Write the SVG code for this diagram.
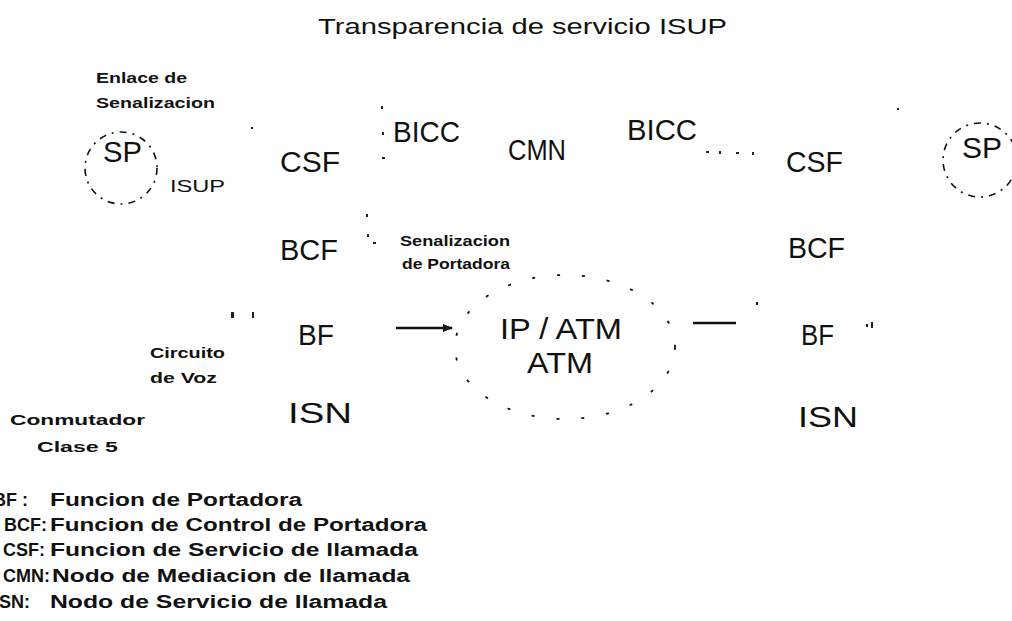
<svg xmlns="http://www.w3.org/2000/svg" width="1012" height="621" viewBox="0 0 1012 621">
<style>
  .bg{fill:#ffffff}
  text{font-family:"Liberation Sans",Arial,sans-serif;fill:#111111}
  .title{font-size:22px}
  .big{font-size:30px}
  .small{font-size:15px;font-weight:bold}
  .thin{font-size:16px}
  .leg{font-size:18px;font-weight:bold}
  .dash{fill:none;stroke:#111111;stroke-width:1.6;stroke-dasharray:7 6 2 6}
  .cloud{fill:none;stroke:#111111;stroke-width:1.8;stroke-dasharray:3 22}
  .conn{stroke:#111111;stroke-width:2.6;fill:none}
  .mark{fill:#222222}
</style>
<defs>
  <marker id="ah" viewBox="0 0 10 10" refX="9" refY="5" markerWidth="4" markerHeight="4" orient="auto">
    <path d="M0,1 L10,5 L0,9 Z" fill="#111111"/>
  </marker>
</defs>
<rect class="bg" x="0" y="0" width="1012" height="621"/>

<text class="title" x="318" y="34" textLength="409" lengthAdjust="spacingAndGlyphs">Transparencia de servicio ISUP</text>

<g id="sp-left">
  <circle class="dash" cx="121" cy="168" r="36"/>
  <text class="big" x="103" y="162" font-size="29" textLength="39" lengthAdjust="spacingAndGlyphs">SP</text>
</g>
<g id="enlace-label">
  <text class="small" x="96" y="83" textLength="91" lengthAdjust="spacingAndGlyphs">Enlace de</text>
  <text class="small" x="96" y="108" textLength="119" lengthAdjust="spacingAndGlyphs">Senalizacion</text>
</g>
<g id="isup-label">
  <text class="thin" x="170" y="192" textLength="55" lengthAdjust="spacingAndGlyphs">ISUP</text>
</g>

<g id="csf-left"><text class="big" x="280" y="172" font-size="32" textLength="60" lengthAdjust="spacingAndGlyphs">CSF</text></g>
<g id="bicc-left"><text class="big" x="393" y="142" font-size="28" textLength="67" lengthAdjust="spacingAndGlyphs">BICC</text></g>
<g id="cmn"><text class="big" x="508" y="160" font-size="26" textLength="58" lengthAdjust="spacingAndGlyphs">CMN</text></g>
<g id="bicc-right"><text class="big" x="627" y="140" font-size="27" textLength="70" lengthAdjust="spacingAndGlyphs">BICC</text></g>
<g id="csf-right"><text class="big" x="786" y="172" font-size="31" textLength="57" lengthAdjust="spacingAndGlyphs">CSF</text></g>

<g id="sp-right">
  <circle class="dash" cx="980" cy="160" r="37"/>
  <text class="big" x="962" y="158" font-size="29" textLength="40" lengthAdjust="spacingAndGlyphs">SP</text>
</g>

<g id="bcf-left"><text class="big" x="280" y="260" font-size="33" textLength="58" lengthAdjust="spacingAndGlyphs">BCF</text></g>
<g id="senal-portadora">
  <text class="small" x="400" y="246" textLength="110" lengthAdjust="spacingAndGlyphs">Senalizacion</text>
  <text class="small" x="402" y="269" textLength="108" lengthAdjust="spacingAndGlyphs">de Portadora</text>
</g>
<g id="bcf-right"><text class="big" x="788" y="258" font-size="32" textLength="57" lengthAdjust="spacingAndGlyphs">BCF</text></g>

<g id="bf-left"><text class="big" x="298" y="345" font-size="30" textLength="36" lengthAdjust="spacingAndGlyphs">BF</text></g>
<g id="ipatm">
  <ellipse class="cloud" cx="565" cy="347" rx="110" ry="72"/>
  <text class="big" x="500" y="339" font-size="30" textLength="122" lengthAdjust="spacingAndGlyphs">IP / ATM</text>
  <text class="big" x="527" y="373" font-size="30" textLength="66" lengthAdjust="spacingAndGlyphs">ATM</text>
</g>
<g id="bf-right"><text class="big" x="801" y="345" font-size="30" textLength="33" lengthAdjust="spacingAndGlyphs">BF</text></g>

<g id="circuito-label">
  <text class="small" x="150" y="358" textLength="75" lengthAdjust="spacingAndGlyphs">Circuito</text>
  <text class="small" x="150" y="383" textLength="67" lengthAdjust="spacingAndGlyphs">de Voz</text>
</g>
<g id="isn-left"><text class="big" x="288" y="423" font-size="35" textLength="64" lengthAdjust="spacingAndGlyphs">ISN</text></g>
<g id="isn-right"><text class="big" x="798" y="427" font-size="35" textLength="60" lengthAdjust="spacingAndGlyphs">ISN</text></g>
<g id="conmutador-label">
  <text class="small" x="10" y="425" textLength="135" lengthAdjust="spacingAndGlyphs">Conmutador</text>
  <text class="small" x="37" y="452" textLength="81" lengthAdjust="spacingAndGlyphs">Clase 5</text>
</g>

<g id="connectors">
  <line class="conn" x1="396" y1="328" x2="452" y2="328" marker-end="url(#ah)"/>
  <line class="conn" x1="693" y1="323" x2="736" y2="323" stroke-width="3"/>
</g>

<g id="scan-marks">
  <rect class="mark" x="381" y="106" width="2" height="3"/>
  <rect class="mark" x="382" y="132" width="2" height="3"/>
  <rect class="mark" x="382" y="157" width="3" height="2"/>
  <rect class="mark" x="366" y="214" width="2" height="3"/>
  <rect class="mark" x="367" y="234" width="2" height="3"/>
  <rect class="mark" x="373" y="242" width="3" height="2"/>
  <rect class="mark" x="706" y="151" width="3" height="2"/>
  <rect class="mark" x="719" y="151" width="2" height="3"/>
  <rect class="mark" x="736" y="152" width="3" height="2"/>
  <rect class="mark" x="752" y="152" width="2" height="3"/>
  <rect class="mark" x="897" y="108" width="2" height="2"/>
  <rect class="mark" x="251" y="127" width="2" height="2"/>
  <rect class="mark" x="231" y="312" width="3" height="6"/>
  <rect class="mark" x="252" y="312" width="2" height="6"/>
  <rect class="mark" x="756" y="302" width="2" height="3"/>
  <rect class="mark" x="866" y="324" width="2" height="3"/>
  <rect class="mark" x="871" y="322" width="2" height="6"/>
</g>

<g id="legend">
  <text class="leg" x="28" y="506" text-anchor="end">BF :</text>
  <text class="leg" x="50" y="506" textLength="252" lengthAdjust="spacingAndGlyphs">Funcion de Portadora</text>
  <text class="leg" x="47" y="531" text-anchor="end">BCF:</text>
  <text class="leg" x="50" y="531" textLength="377" lengthAdjust="spacingAndGlyphs">Funcion de Control de Portadora</text>
  <text class="leg" x="45" y="556" text-anchor="end">CSF:</text>
  <text class="leg" x="50" y="556" textLength="368" lengthAdjust="spacingAndGlyphs">Funcion de Servicio de llamada</text>
  <text class="leg" x="50" y="582" text-anchor="end">CMN:</text>
  <text class="leg" x="52" y="582" textLength="358" lengthAdjust="spacingAndGlyphs">Nodo de Mediacion de llamada</text>
  <text class="leg" x="30" y="608" text-anchor="end">ISN:</text>
  <text class="leg" x="50" y="608" textLength="337" lengthAdjust="spacingAndGlyphs">Nodo de Servicio de llamada</text>
</g>
</svg>
